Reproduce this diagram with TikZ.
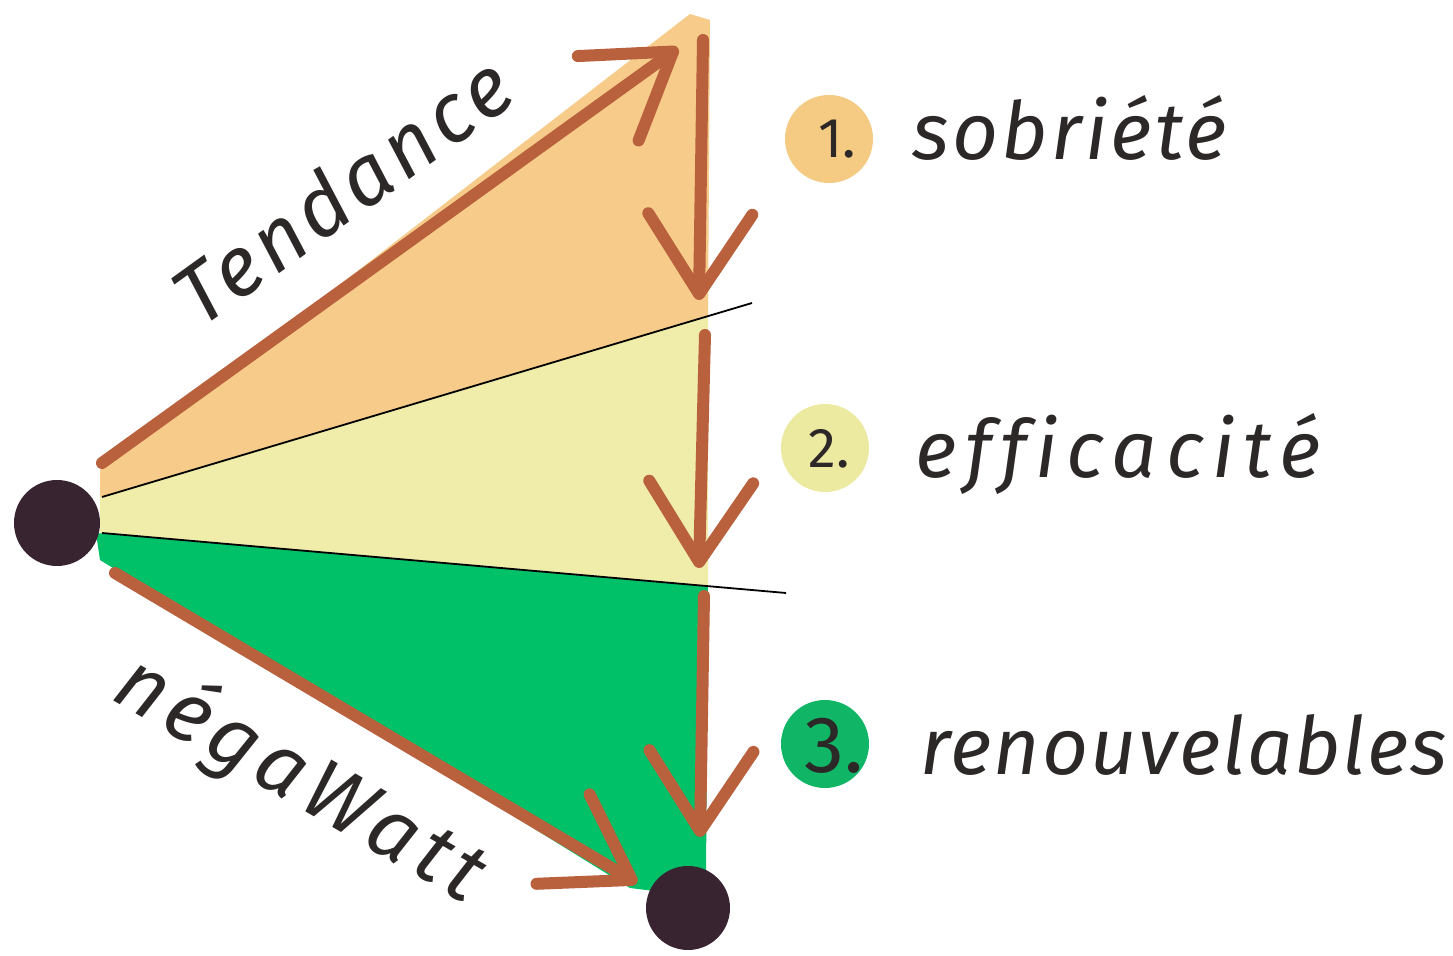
\documentclass[tikz,border=0pt]{standalone}
\usepackage{fontspec}
\setmainfont{Fira Sans}
\newfontfamily\handfont{Fira Sans}[Ligatures=NoCommon]
\usetikzlibrary{arrows.meta}
\definecolor{brownarr}{RGB}{185,96,60}
\definecolor{orangefill}{RGB}{247,204,138}
\definecolor{yellowfill}{RGB}{240,236,170}
\definecolor{greenfill}{RGB}{0,192,104}
\definecolor{dotcol}{RGB}{56,36,48}
\definecolor{circone}{RGB}{245,202,130}
\definecolor{circtwo}{RGB}{236,233,160}
\definecolor{circthree}{RGB}{16,182,102}
\definecolor{inkcol}{RGB}{45,40,40}
\begin{document}
\begin{tikzpicture}[x=0.5pt,y=-0.5pt,
  arr/.style={draw=brownarr, line width=6pt, line cap=round, line join=round,
    -{Straight Barb[length=40pt,width=52pt,line width=6pt,round]}},
  bigdot/.style={circle, fill=dotcol, minimum size=43pt, inner sep=0pt},
  sepline/.style={draw=black, line width=0.9pt},
  numcirc/.style={circle, minimum size=44pt, inner sep=0pt},
  hand/.style={text=inkcol, font=\handfont\fontsize{40}{44}\selectfont\itshape, inner sep=0pt},
  numtxt/.style={text=inkcol, font=\fontsize{28}{30}\selectfont, inner sep=0pt, anchor=base west}
]
\useasboundingbox (0,0) rectangle (1453,956);
\fill[white] (0,0) rectangle (1453,956);
% regions
\fill[orangefill] (100,470) -- (690,14) -- (710,20) -- (708,317) -- (100,497) -- cycle;
\fill[yellowfill] (100,497) -- (708,316) -- (708,586) -- (100,533) -- cycle;
\fill[greenfill] (96,533) -- (708,586) -- (706,878) -- (670,893) -- (630,888) -- (100,560) -- cycle;
% separator lines
\coordinate (s1a) at (102,497);
\coordinate (s1b) at (752,303);
\coordinate (s2a) at (102,533);
\coordinate (s2b) at (786,593);
\draw[sepline] (s1a) -- (s1b);
\draw[sepline] (s2a) -- (s2b);
% dots
\node[bigdot] (start) at (57,523) {};
\node[bigdot, minimum size=42pt] (finish) at (688,908) {};
% arrows
\coordinate (ta) at (102,463);
\coordinate (tb) at (678,48);
\coordinate (v1a) at (703,40);
\coordinate (v1b) at (699,300);
\coordinate (v2a) at (705,335);
\coordinate (v2b) at (699,568);
\coordinate (v3a) at (704,596);
\coordinate (v3b) at (700,837);
\coordinate (na) at (115,573);
\coordinate (nb) at (637,883);
\draw[arr] (ta) -- (tb);
\draw[arr] (v1a) -- (v1b);
\draw[arr] (v2a) -- (v2b);
\draw[arr] (v3a) -- (v3b);
\draw[arr] (na) -- (nb);
% rotated labels
\node[hand, rotate=35.8, font=\handfont\fontsize{42}{46}\selectfont\itshape\addfontfeatures{LetterSpace=6}] (tend) at (342,190) {Tendance};
\node[hand, rotate=-30, font=\handfont\fontsize{42}{46}\selectfont\itshape\addfontfeatures{LetterSpace=8}] (nega) at (300,780) {négaWatt};
% numbered items
\node[numcirc, fill=circone] (c1) at (829,139) {};
\node[numtxt] (n1) at (818,158) {1.};
\node[hand, anchor=base west, font=\handfont\fontsize{40}{44}\selectfont\itshape\addfontfeatures{LetterSpace=4}] (l1) at (912,160) {sobriété};
\node[numcirc, fill=circtwo] (c2) at (825,448) {};
\node[numtxt] (n2) at (808,468) {2.};
\node[hand, anchor=base west, font=\handfont\fontsize{40}{44}\selectfont\itshape\addfontfeatures{LetterSpace=11}] (l2) at (915,478) {efficacité};
\node[numcirc, fill=circthree] (c3) at (825,744) {};
\node[numtxt, font=\fontsize{40}{44}\selectfont] (n3) at (804,773) {3.};
\node[hand, anchor=base west, font=\handfont\fontsize{40}{44}\selectfont\itshape\addfontfeatures{LetterSpace=2.5}] (l3) at (920,775) {renouvelables};
\end{tikzpicture}
\end{document}
